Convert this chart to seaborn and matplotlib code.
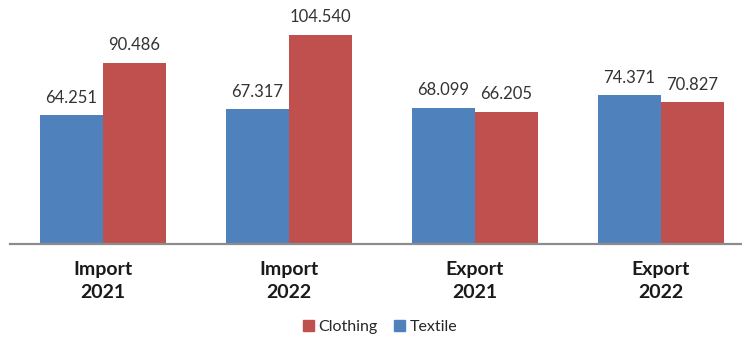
import matplotlib
matplotlib.use("Agg")
import matplotlib.pyplot as plt
import seaborn as sns
import pandas as pd

groups = ["Import\n2021", "Import\n2022", "Export\n2021", "Export\n2022"]
textile = [64.251, 67.317, 68.099, 74.371]
clothing = [90.486, 104.540, 66.205, 70.827]
series = ["Textile", "Clothing"]
colors = {"Textile": "#4F81BD", "Clothing": "#C0504D"}

df = pd.DataFrame({
    "group": groups * 2,
    "series": ["Textile"] * len(groups) + ["Clothing"] * len(groups),
    "value": textile + clothing,
})

sns.set_style("white")
plt.rcParams["font.family"] = ["Lato", "DejaVu Sans"]

fig = plt.figure(figsize=(7.42, 3.37), dpi=100)
ax = fig.add_axes([10 / 742, 93 / 337, 744 / 742, 244 / 337])

sns.barplot(data=df, x="group", y="value", hue="series", order=groups,
            hue_order=series, palette=colors, width=0.68, saturation=1,
            linewidth=0, ax=ax, legend=False)

ax.set_xlim(-0.5, 3.5)
ax.set_ylim(0, 122)
ax.set_xlabel("")
ax.set_ylabel("")
ax.set_yticks([])
for side in ["top", "right", "left"]:
    ax.spines[side].set_visible(False)
ax.spines["bottom"].set_color("#8C8C8C")
ax.spines["bottom"].set_linewidth(1.6)
ax.tick_params(axis="x", length=0, pad=12)
for lbl in ax.get_xticklabels():
    lbl.set_fontweight("bold")
    lbl.set_fontsize(14)
    lbl.set_linespacing(1.45)
    lbl.set_color("#1a1a1a")

for container in ax.containers:
    ax.bar_label(container, labels=[f"{v:.3f}" for v in container.datavalues],
                 padding=7, fontsize=12, color="#333333")

handles = [plt.Rectangle((0, 0), 1, 1, color=colors[s]) for s in ["Clothing", "Textile"]]
fig.legend(handles, ["Clothing", "Textile"], loc="center", bbox_to_anchor=(380 / 742, 1 - 327 / 337),
           ncol=2, frameon=False, fontsize=11.5, handlelength=0.7, handleheight=0.7,
           handletextpad=0.3, columnspacing=1.0)

fig.savefig("out.png", dpi=100)
